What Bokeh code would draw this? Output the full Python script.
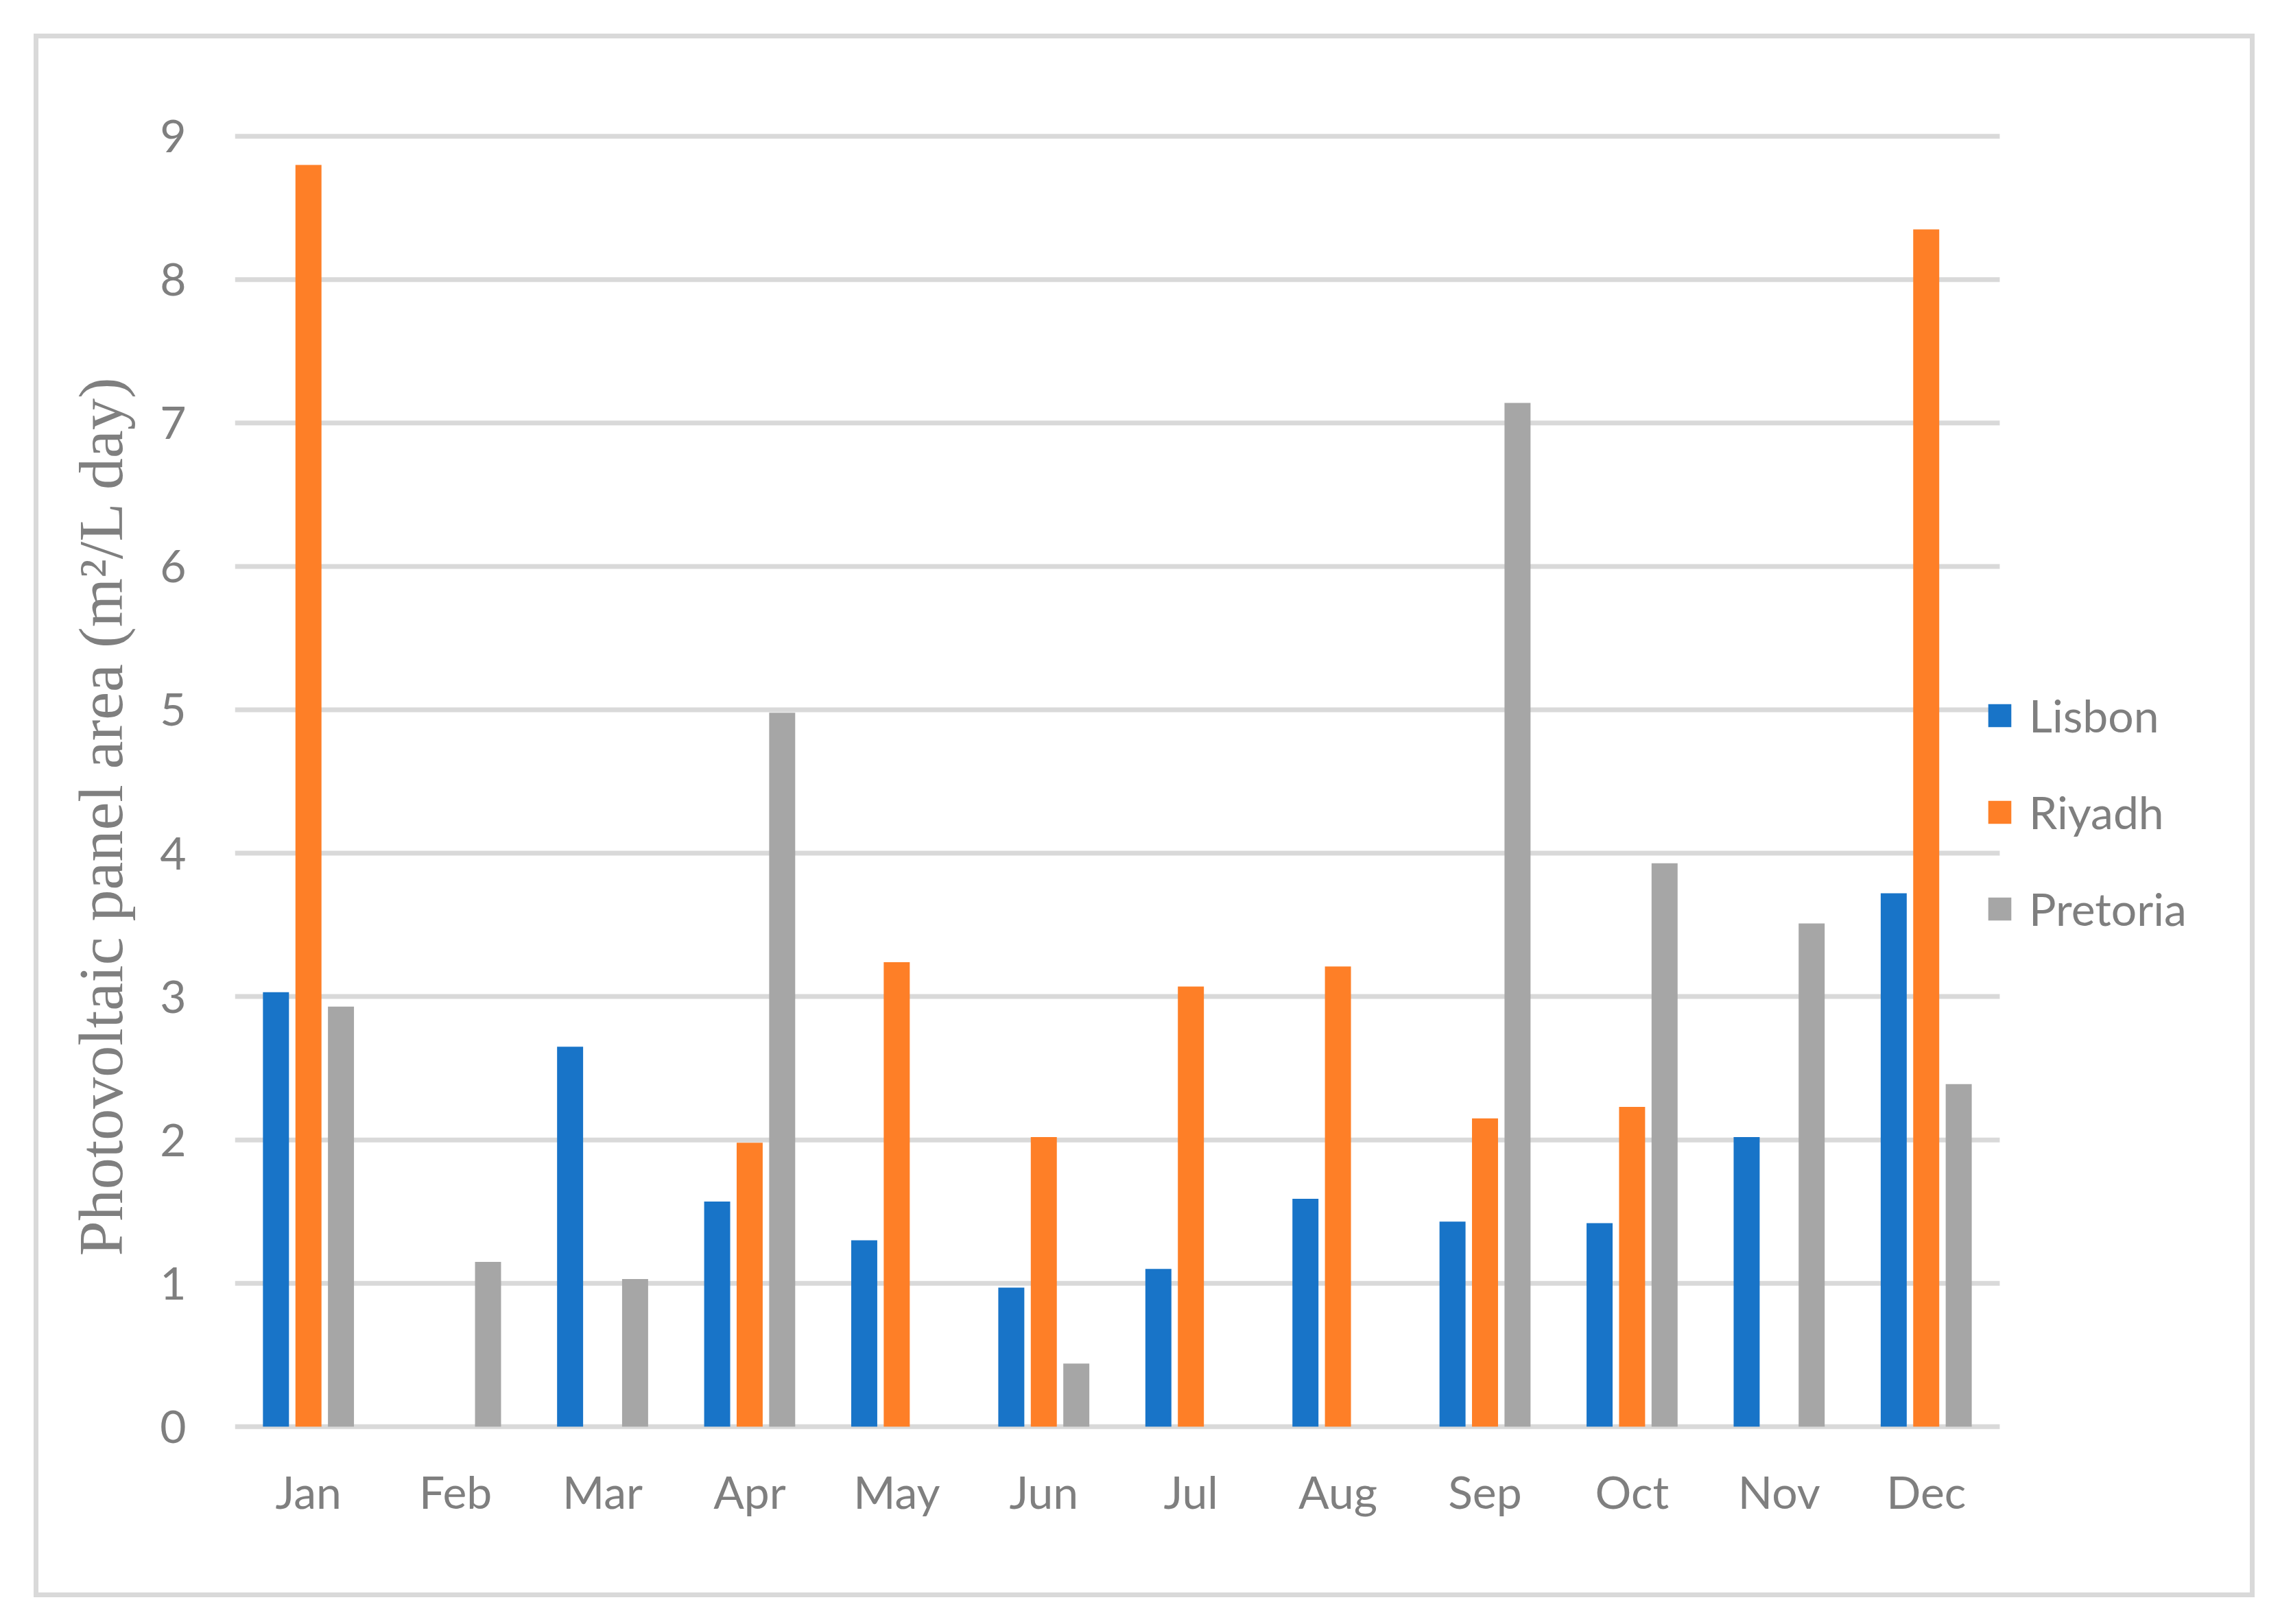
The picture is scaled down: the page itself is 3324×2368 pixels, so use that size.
from bokeh.plotting import figure
from bokeh.models import (ColumnDataSource, Range1d, FixedTicker, Legend, LegendItem, Title)
from bokeh.transform import dodge
from bokeh.embed import file_html
from bokeh.resources import INLINE

months = ["Jan", "Feb", "Mar", "Apr", "May", "Jun", "Jul", "Aug", "Sep", "Oct", "Nov", "Dec"]
lisbon = [3.03, 0, 2.65, 1.57, 1.30, 0.97, 1.10, 1.59, 1.43, 1.42, 2.02, 3.72]
riyadh = [8.80, 0, 0, 1.98, 3.24, 2.02, 3.07, 3.21, 2.15, 2.23, 0, 8.35]
pretoria = [2.93, 1.15, 1.03, 4.98, 0, 0.44, 0, 0, 7.14, 3.93, 3.51, 2.39]
y_ticks = [0, 1, 2, 3, 4, 5, 6, 7, 8, 9]
series_names = ["Lisbon", "Riyadh", "Pretoria"]
colors = ["#1874C8", "#FE7F27", "#A6A6A6"]
y_label = "Photovoltaic panel area (m\u00b2/L day)"

# canvas sits inside a light-grey outline, like the reference's chart border
W, H = 3224, 2266
TXT = "#7F7F7F"
FONT = "Lato"

n = len(months)
pos = [i + 0.5 for i in range(n)]  # category centres on a numeric x scale
source = ColumnDataSource(dict(pos=pos, month=months, Lisbon=lisbon, Riyadh=riyadh, Pretoria=pretoria))

# the frame runs on past Dec so the legend can sit inside it (plot area = 0..n)
p = figure(width=W, height=H, output_backend="svg", toolbar_location=None,
           x_range=Range1d(0, 13.67), y_range=Range1d(-0.02, 9.02),
           min_border_left=286, min_border_right=7, min_border_top=138, min_border_bottom=238)
p.margin = (56, 0, 0, 56)
p.styles = {"outline": "7px solid #D9D9D9", "outline-offset": "0px"}
p.outline_line_color = None
p.background_fill_color = "white"
p.border_fill_color = "white"

# horizontal gridlines limited to the category span
p.segment(x0=0, x1=n, y0=y_ticks, y1=y_ticks, line_color="#D9D9D9", line_width=7)

renderers = []
offsets = [-0.221, 0.0, 0.221]
for name, off, col in zip(series_names, offsets, colors):
    r = p.vbar(x=dodge("pos", off), top=name, width=0.177, source=source,
               fill_color=col, line_color=None)
    renderers.append(r)

p.xgrid.grid_line_color = None
p.ygrid.grid_line_color = None
p.yaxis.ticker = FixedTicker(ticks=y_ticks)
p.xaxis.ticker = FixedTicker(ticks=pos)
p.xaxis.major_label_overrides = {x: m for x, m in zip(pos, months)}

for ax in (p.xaxis[0], p.yaxis[0]):
    ax.axis_line_color = None
    ax.major_tick_line_color = None
    ax.minor_tick_line_color = None
    ax.major_tick_out = 0
    ax.major_tick_in = 0
    ax.minor_tick_out = 0
    ax.minor_tick_in = 0
    ax.major_label_text_font = FONT
    ax.major_label_text_font_size = "66px"
    ax.major_label_text_color = TXT
p.xaxis.major_label_standoff = 50
p.yaxis.major_label_standoff = 71

ytitle = Title(text=y_label, align="left", offset=253, standoff=66,
               text_font="Liberation Serif", text_font_size="92px",
               text_font_style="normal", text_color=TXT)
p.add_layout(ytitle, "left")

legend = Legend(items=[LegendItem(label=s, renderers=[r]) for s, r in zip(series_names, renderers)],
                location=(2552, 720), orientation="vertical",
                glyph_width=42, glyph_height=42, label_standoff=22, spacing=62,
                padding=0, margin=0, border_line_color=None, background_fill_alpha=0,
                label_text_font=FONT, label_text_font_size="66px", label_text_color=TXT)
p.add_layout(legend, "center")

open("out.html", "w").write(file_html(p, INLINE))
